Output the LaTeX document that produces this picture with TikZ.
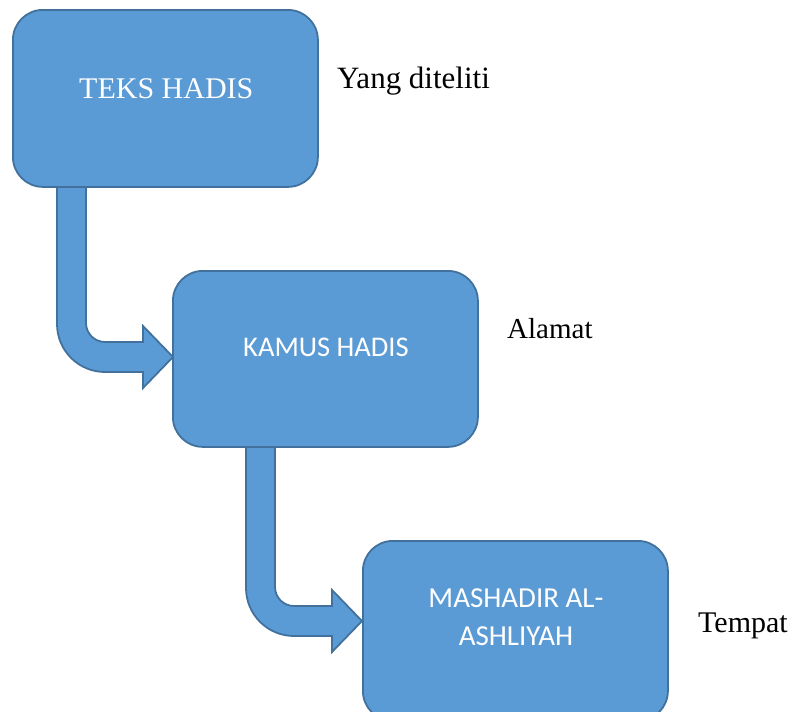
\documentclass[tikz,border=0pt]{standalone}
\usepackage{fontspec}
\setmainfont{Liberation Serif}
\newfontfamily\calib{Carlito}
\definecolor{boxfill}{HTML}{5B9BD5}
\definecolor{boxline}{HTML}{41719C}
\begin{document}
\begin{tikzpicture}[x=1pt,y=-1pt,
  blockbox/.style={draw=boxline,fill=boxfill,line width=1.8pt,rounded corners=30pt,
    minimum width=305pt,inner sep=0pt,anchor=north west},
  bentarrow/.pic={
    \draw[draw=boxline,fill=boxfill,line width=1.8pt,line join=miter]
      (-116,-185) -- (-116,-33)
      .. controls (-116,-6.5) and (-94.5,15) .. (-68,15)
      -- (-30,15) -- (-30,31) -- (0,0) -- (-30,-31) -- (-30,-15) -- (-68,-15)
      .. controls (-78.5,-15) and (-87,-23.5) .. (-87,-34)
      -- (-87,-185) -- cycle;
  },
  lbl/.style={anchor=base west,inner sep=0pt,text=black},
  intext/.style={anchor=base west,inner sep=0pt,text=white}]
\useasboundingbox (0,0) rectangle (795,712);
\clip (0,0) rectangle (795,712);
% anchor coordinates for arrow tips (left middles of boxes 2 and 3)
\coordinate (t1) at (173,357);
\coordinate (t2) at (362,621);
\pic at (t1) {bentarrow};
\pic at (t2) {bentarrow};
\node[blockbox,minimum height=177pt] (b1) at (12,9) {};
\node[blockbox,minimum height=176pt] (b2) at (172,270) {};
\node[blockbox,minimum height=180pt] (b3) at (362,540) {};
\node[intext,font=\fontsize{30}{36}\selectfont] (x1) at (79,98) {TEKS HADIS};
\node[intext,font=\calib\fontsize{28.5}{34}\selectfont] (x2) at (243,356) {KAMUS HADIS};
\node[intext,font=\calib\fontsize{29}{34}\selectfont,anchor=base] (x3a) at (516,607) {MASHADIR AL-};
\node[intext,font=\calib\fontsize{29}{34}\selectfont,anchor=base] (x3b) at (516,645) {ASHLIYAH};
\node[lbl,font=\fontsize{31}{36}\selectfont] (l1) at (337,88) {Yang diteliti};
\node[lbl,font=\fontsize{29}{34}\selectfont] (l2) at (507,338) {Alamat};
\node[lbl,font=\fontsize{30}{36}\selectfont] (l3) at (698,632) {Tempat};
\end{tikzpicture}
\end{document}
